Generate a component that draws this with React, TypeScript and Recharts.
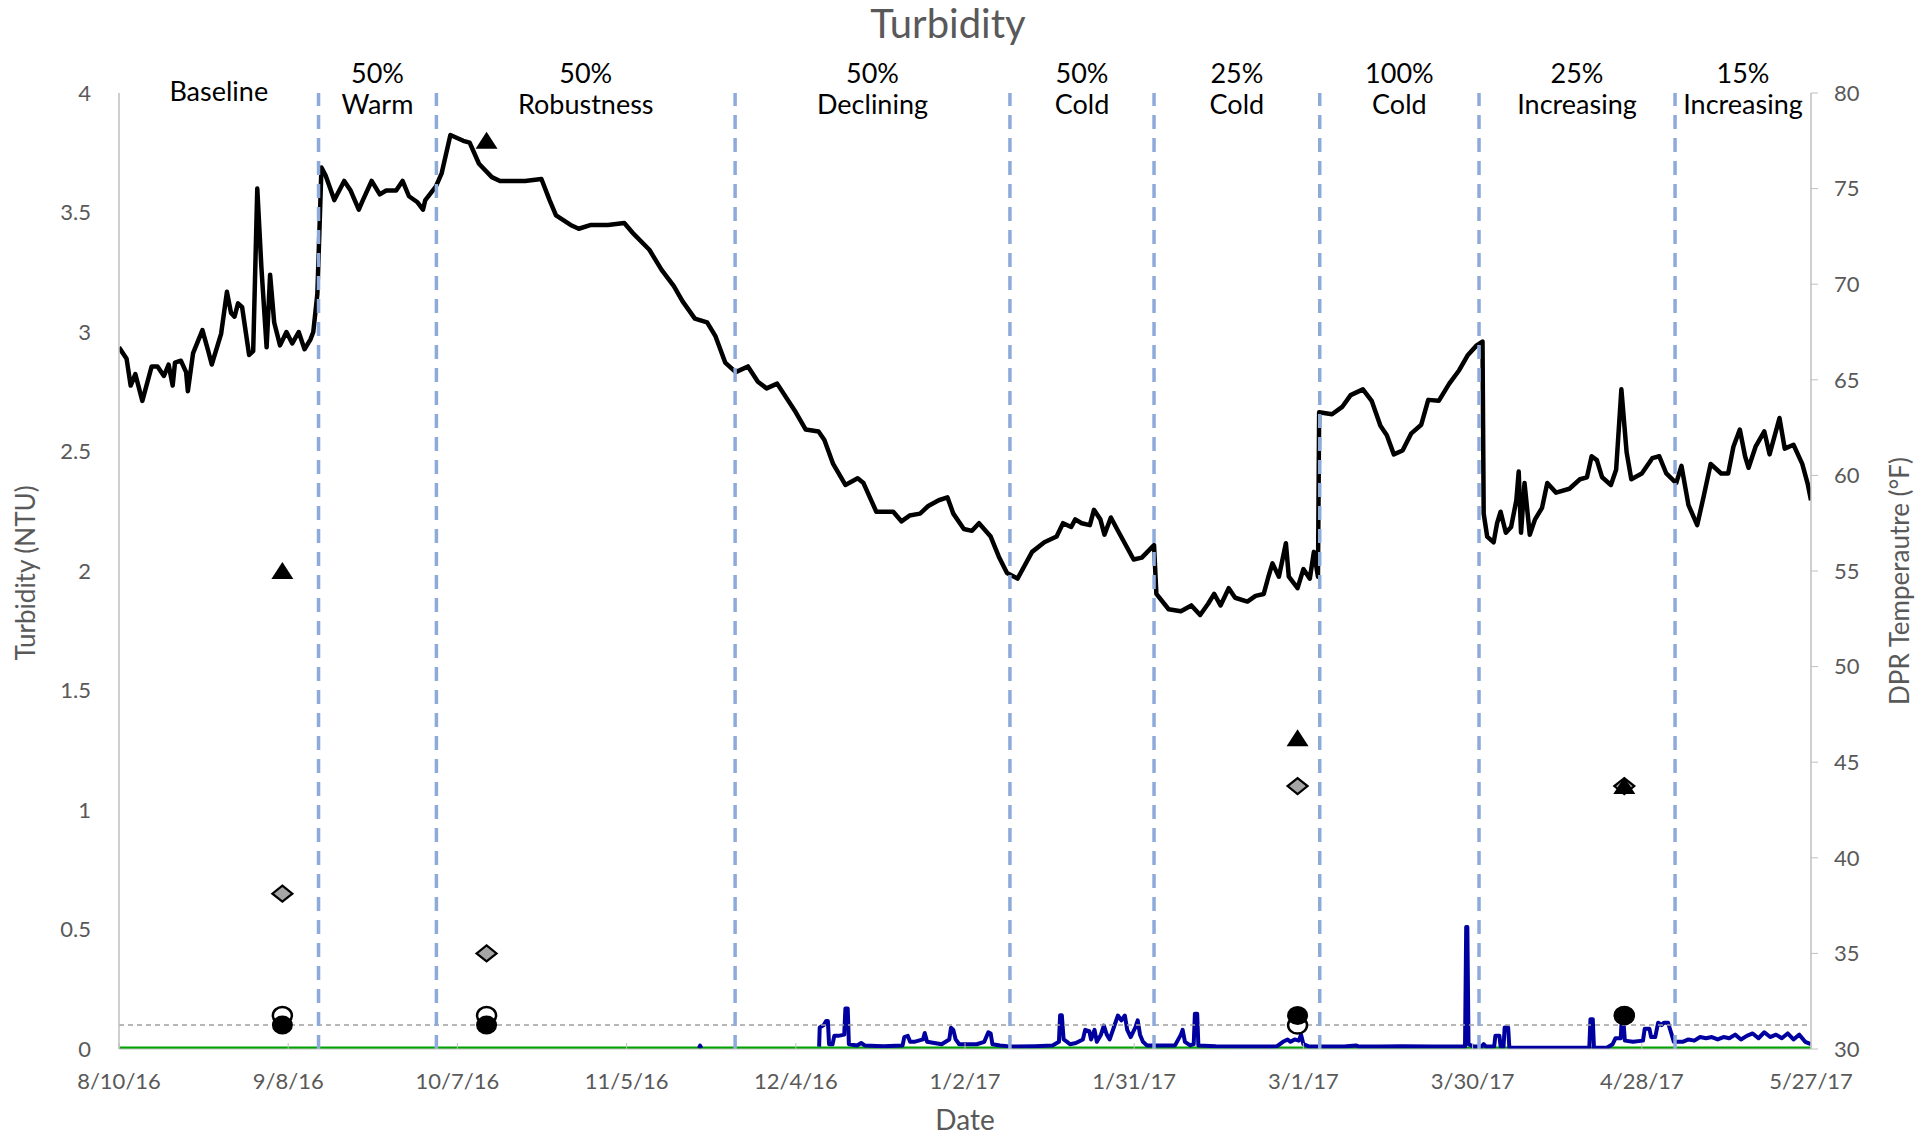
import React from 'react';
import { ComposedChart, Line, Scatter, XAxis, YAxis, ReferenceLine, ReferenceArea } from 'recharts';

const FONT = 'Lato, "Open Sans", sans-serif';
const GREY_TEXT = '#595959';
const AXIS_GREY = '#bfbfbf';

// x axis is "days since 8/10/16"
const dateTicks = [0, 29, 58, 87, 116, 145, 174, 203, 232, 261, 290];
const dateLabels = ['8/10/16', '9/8/16', '10/7/16', '11/5/16', '12/4/16', '1/2/17', '1/31/17', '3/1/17', '3/30/17', '4/28/17', '5/27/17'];
const ntuTicks = [0, 0.5, 1, 1.5, 2, 2.5, 3, 3.5, 4];
const tempTicks = [30, 35, 40, 45, 50, 55, 60, 65, 70, 75, 80];

// test phases
const phaseStarts = [0, 34.2, 54.4, 105.6, 152.7, 177.4, 205.8, 233.1, 266.7];
const phaseEnds = [34.2, 54.4, 105.6, 152.7, 177.4, 205.8, 233.1, 266.7, 290];
const phaseLevel = ['', '50%', '50%', '50%', '50%', '25%', '100%', '25%', '15%'];
const phaseName = ['Baseline', 'Warm', 'Robustness', 'Declining', 'Cold', 'Cold', 'Cold', 'Increasing', 'Increasing'];
const phaseBoundaries = [34.2, 54.4, 105.6, 152.7, 177.4, 205.8, 233.1, 266.7];

// grab samples
const sampleDays = [28, 63, 202, 258];
const triangleNtu = [2.0, 3.8, 1.3, 1.1];
const diamondNtu = [0.65, 0.4, 1.1, 1.1];
const openCircleNtu = [0.14, 0.14, 0.1, 0.14];
const filledCircleNtu = [0.1, 0.1, 0.14, 0.14];

// DPR temperature (F), [day, value]
const temperature: [number, number][] = [
  [0, 66.7], [1.3, 66.1], [2.0, 64.7], [2.8, 65.3], [4.0, 63.9], [5.6, 65.7], [6.6, 65.7], [7.7, 65.2],
  [8.5, 65.8], [9.2, 64.7], [9.6, 65.9], [10.6, 66.0], [11.5, 65.4], [11.8, 64.4], [12.7, 66.4], [14.3, 67.6],
  [15.3, 66.5], [15.9, 65.8], [17.5, 67.4], [18.5, 69.6], [19.2, 68.5], [19.8, 68.3], [20.4, 69.0], [21.1, 68.8],
  [22.3, 66.3], [23.0, 66.5], [23.7, 75.0], [24.4, 70.9], [25.3, 66.7], [25.9, 70.5], [26.6, 68.0], [27.6, 66.8],
  [28.7, 67.5], [29.7, 66.9], [30.8, 67.5], [31.8, 66.6], [32.8, 67.1], [33.3, 67.5], [34.0, 69.5], [34.7, 76.1],
  [35.4, 75.7], [36.9, 74.4], [38.6, 75.4], [39.7, 74.9], [41.1, 73.9], [41.8, 74.4], [43.3, 75.4], [44.7, 74.7],
  [45.8, 74.9], [47.5, 74.9], [48.6, 75.4], [49.7, 74.6], [51.1, 74.3], [52.1, 73.9], [52.5, 74.4], [54.3, 75.1],
  [55.3, 75.8], [56.8, 77.8], [59.0, 77.5], [60.1, 77.4], [61.7, 76.3], [63.9, 75.6], [65.3, 75.4], [69.6, 75.4],
  [72.4, 75.5], [73.8, 74.4], [74.9, 73.6], [77.4, 73.1], [78.8, 72.9], [80.9, 73.1], [83.8, 73.1], [86.6, 73.2],
  [88.0, 72.7], [90.9, 71.8], [93.0, 70.75], [95.1, 69.9], [96.6, 69.1], [98.7, 68.2], [100.8, 68.0], [102.2, 67.3],
  [103.9, 65.9], [105.7, 65.4], [107.8, 65.7], [109.5, 64.9], [111.0, 64.55], [112.8, 64.8], [116.0, 63.3], [117.7, 62.4],
  [119.9, 62.3], [120.9, 61.85], [122.4, 60.6], [124.5, 59.5], [126.6, 59.85], [127.6, 59.6], [129.8, 58.1], [132.7, 58.1],
  [134.1, 57.6], [135.5, 57.9], [137.3, 58.0], [138.7, 58.4], [140.5, 58.7], [142.0, 58.85], [143.0, 58.0], [144.8, 57.2],
  [146.2, 57.1], [147.4, 57.5], [149.4, 56.8], [150.8, 55.75], [152.2, 54.9], [154.0, 54.6], [156.5, 56.0], [158.6, 56.5],
  [160.7, 56.8], [161.8, 57.5], [163.2, 57.3], [163.9, 57.7], [165.0, 57.5], [166.4, 57.4], [167.1, 58.2], [168.2, 57.7],
  [168.9, 56.9], [170.0, 57.8], [171.4, 57.0], [173.9, 55.6], [175.3, 55.7], [177.4, 56.35], [177.8, 53.8], [179.9, 53.0],
  [182.0, 52.9], [183.8, 53.2], [185.3, 52.7], [186.7, 53.3], [187.7, 53.8], [188.8, 53.2], [190.2, 54.1], [191.3, 53.6],
  [193.4, 53.4], [194.8, 53.7], [196.2, 53.8], [197.0, 54.7], [197.7, 55.4], [198.8, 54.7], [200.0, 56.45], [200.5, 54.7],
  [202.0, 54.1], [203.0, 55.1], [204.1, 54.6], [204.8, 56.0], [205.5, 54.7], [205.7, 63.3], [207.9, 63.2], [209.7, 63.6],
  [211.1, 64.2], [213.2, 64.5], [214.7, 63.9], [216.2, 62.6], [217.3, 62.1], [218.5, 61.1], [220.0, 61.3], [221.5, 62.2],
  [223.2, 62.65], [224.4, 63.95], [226.2, 63.9], [228.0, 64.8], [229.7, 65.5], [231.2, 66.3], [232.7, 66.8], [233.7, 67.0],
  [233.9, 58.0], [234.5, 56.8], [235.6, 56.5], [236.2, 57.5], [236.8, 58.1], [237.7, 57.0], [238.6, 57.3], [239.5, 58.7],
  [239.9, 60.2], [240.3, 57.0], [240.9, 59.6], [241.8, 56.9], [242.7, 57.7], [243.9, 58.3], [244.8, 59.6], [246.3, 59.1],
  [248.6, 59.3], [250.4, 59.8], [251.6, 59.9], [252.4, 61.0], [253.3, 60.8], [254.2, 59.9], [255.7, 59.5], [256.6, 60.3],
  [257.5, 64.5], [258.4, 61.2], [259.2, 59.8], [261.0, 60.1], [262.8, 60.9], [264.0, 61.0], [265.2, 60.1], [266.9, 59.6],
  [267.8, 60.5], [269.0, 58.45], [270.5, 57.4], [271.6, 58.9], [272.8, 60.6], [274.6, 60.1], [275.8, 60.1], [276.7, 61.5],
  [277.8, 62.4], [278.7, 61.0], [279.3, 60.4], [280.5, 61.5], [282.0, 62.3], [282.9, 61.1], [284.6, 63.0], [285.5, 61.4],
  [287.0, 61.6], [288.5, 60.6], [289.4, 59.6], [290.0, 58.7],
];

// online turbidity (NTU), [day, value]; null = no data
const turbidity: [number, number | null][] = [
  [99.4, 0.004], [99.6, 0.014], [99.8, 0.004], [100, null],
  [120.0, 0.01], [120.1, 0.09], [120.8, 0.1], [121.2, 0.117], [121.5, 0.117], [121.7, 0.02], [122.3, 0.02], [122.6, 0.055],
  [123.3, 0.055], [124.3, 0.06], [124.5, 0.169], [124.9, 0.169], [125.1, 0.02], [126.5, 0.015], [127.2, 0.025], [127.8, 0.015],
  [131, 0.012], [134.3, 0.015], [134.6, 0.05], [135.2, 0.055], [135.6, 0.03], [136.3, 0.03], [137.8, 0.04], [138.1, 0.067],
  [138.5, 0.03], [141.0, 0.02], [142.3, 0.04], [142.6, 0.089], [143.0, 0.08], [143.4, 0.04], [144, 0.02], [147, 0.02],
  [148.3, 0.03], [149.0, 0.07], [149.4, 0.065], [149.7, 0.02], [151, 0.015], [152.3, 0.012], [153.5, 0.01], [157, 0.012],
  [160, 0.015], [161.1, 0.03], [161.3, 0.141], [161.6, 0.141], [161.9, 0.04], [162.5, 0.03], [163, 0.02], [164, 0.025],
  [165.2, 0.04], [165.6, 0.08], [166.3, 0.075], [166.6, 0.04], [167.2, 0.08], [167.6, 0.03], [168.3, 0.06], [168.8, 0.098],
  [169.3, 0.06], [169.8, 0.04], [170.5, 0.09], [171.2, 0.14], [171.8, 0.12], [172.4, 0.14], [172.8, 0.08], [173.4, 0.05],
  [174.2, 0.09], [174.6, 0.12], [175.0, 0.06], [175.5, 0.03], [176.2, 0.015], [178, 0.015], [181, 0.015], [182.0, 0.06],
  [182.3, 0.08], [182.7, 0.03], [183.6, 0.015], [184.2, 0.02], [184.4, 0.147], [184.8, 0.147], [185.0, 0.015], [188, 0.012],
  [193, 0.01], [197, 0.01], [198.5, 0.012], [199.5, 0.03], [200.3, 0.04], [200.8, 0.03], [201.5, 0.04], [202.2, 0.035],
  [202.6, 0.06], [203.0, 0.02], [204, 0.01], [210, 0.01], [212, 0.015], [212.5, 0.01], [216, 0.01], [220, 0.012],
  [225, 0.01], [230.7, 0.01], [230.9, 0.51], [231.1, 0.51], [231.3, 0.02], [232.2, 0.01], [233.5, 0.01], [233.9, 0.02],
  [234.3, 0.01], [235.7, 0.01], [235.9, 0.055], [236.6, 0.055], [236.8, 0.01], [237.3, 0.01], [237.5, 0.09], [238.1, 0.09],
  [238.3, 0.005], [245, 0.005], [252.0, 0.005], [252.2, 0.125], [252.6, 0.125], [252.8, 0.005], [255, 0.005], [256, 0.02],
  [256.5, 0.045], [257.4, 0.045], [257.5, 0.1], [257.9, 0.1], [258.1, 0.035], [259.5, 0.03], [261.2, 0.035], [261.5, 0.085],
  [262.3, 0.085], [262.6, 0.05], [263.3, 0.05], [263.8, 0.11], [264.4, 0.1], [264.8, 0.11], [265.5, 0.11], [266.0, 0.07],
  [266.5, 0.03], [268, 0.03], [269, 0.04], [270, 0.035], [271, 0.05], [272, 0.045], [273, 0.05], [274, 0.04],
  [275, 0.05], [276, 0.045], [277, 0.06], [278, 0.04], [279, 0.055], [280, 0.065], [281, 0.045], [282, 0.07],
  [283, 0.05], [284, 0.06], [285, 0.045], [286, 0.065], [287, 0.04], [288, 0.06], [289, 0.03], [290, 0.02],
];

// second turbidimeter, reads zero throughout
const zeroTurbidity: [number, number][] = [[0, 0], [290, 0]];

const toRows = (pts: [number, number | null][]) => pts.map(([day, v]) => ({ day, v }));
const samples = (vals: number[]) => sampleDays.map((day, i) => ({ day, v: vals[i] }));

const Triangle = (p: any) => (
  <path d={`M${p.cx},${p.cy - 9} L${p.cx + 11},${p.cy + 8} L${p.cx - 11},${p.cy + 8} Z`} fill="#000" />
);
const Diamond = (p: any) => (
  <path d={`M${p.cx},${p.cy - 8} L${p.cx + 10},${p.cy} L${p.cx},${p.cy + 8} L${p.cx - 10},${p.cy} Z`} fill="#a5a5a5" stroke="#000" strokeWidth={2.2} />
);
const OpenCircle = (p: any) => <ellipse cx={p.cx} cy={p.cy} rx={9.5} ry={8.5} fill="#fff" stroke="#000" strokeWidth={2.5} />;
const FilledCircle = (p: any) => <ellipse cx={p.cx} cy={p.cy} rx={10.5} ry={9.5} fill="#000" />;

function PhaseLabel(props: any) {
  const vb = props.viewBox;
  if (!vb) return null;
  const cx = vb.x + vb.width / 2;
  const style = { fontFamily: FONT, fontSize: 27, fill: '#000' };
  if (!props.level) {
    return <text x={cx} y={vb.y - 3} textAnchor="middle" dominantBaseline="central" style={style}>{props.name}</text>;
  }
  return (
    <g>
      <text x={cx} y={vb.y - 21} textAnchor="middle" dominantBaseline="central" style={style}>{props.level}</text>
      <text x={cx} y={vb.y + 10} textAnchor="middle" dominantBaseline="central" style={style}>{props.name}</text>
    </g>
  );
}

const tickStyle = { fill: GREY_TEXT, fontSize: 22, fontFamily: FONT };

export default function App() {
  return (
    <div style={{ position: 'absolute', left: 0, top: 0, width: 1921, height: 1138, background: '#fff', overflow: 'hidden' }}>
      <ComposedChart width={1921} height={1138} margin={{ top: 93, right: 0, bottom: 0, left: 0 }}>
        <XAxis
          dataKey="day"
          type="number"
          domain={[0, 290]}
          ticks={dateTicks}
          interval={0}
          allowDataOverflow
          height={89}
          tickSize={-6}
          tickMargin={30}
          tickFormatter={(v) => dateLabels[dateTicks.indexOf(v)]}
          tick={tickStyle}
          tickLine={{ stroke: AXIS_GREY }}
          axisLine={{ stroke: AXIS_GREY }}
        />
        <YAxis
          yAxisId="n"
          orientation="left"
          width={119}
          domain={[0, 4]}
          ticks={ntuTicks}
          interval={0}
          allowDataOverflow
          tickSize={0}
          tickMargin={28}
          tick={tickStyle}
          axisLine={{ stroke: AXIS_GREY, strokeWidth: 1.5 }}
        />
        <YAxis
          yAxisId="t"
          orientation="right"
          width={110}
          domain={[30, 80]}
          ticks={tempTicks}
          interval={0}
          allowDataOverflow
          tickSize={7}
          tickMargin={16}
          tick={tickStyle}
          tickLine={{ stroke: AXIS_GREY }}
          axisLine={{ stroke: AXIS_GREY, strokeWidth: 1.5 }}
        />

        {phaseStarts.map((s, i) => (
          <ReferenceArea
            key={'p' + i}
            yAxisId="n"
            x1={s}
            x2={phaseEnds[i]}
            fill="none"
            fillOpacity={0}
            stroke="none"
            label={(p: any) => <PhaseLabel {...p} level={phaseLevel[i]} name={phaseName[i]} />}
          />
        ))}

        <Line yAxisId="n" data={toRows(zeroTurbidity)} dataKey="v" stroke="#00a400" strokeWidth={5} dot={false} isAnimationActive={false} />
        <Line yAxisId="n" data={toRows(turbidity)} dataKey="v" stroke="#0000a0" strokeWidth={4} strokeLinejoin="round" dot={false} connectNulls={false} isAnimationActive={false} />
        <Line yAxisId="t" data={toRows(temperature)} dataKey="v" stroke="#000" strokeWidth={4.5} strokeLinejoin="round" dot={false} isAnimationActive={false} />

        <ReferenceLine yAxisId="n" y={0.1} stroke="#a0a0a0" strokeWidth={1.5} strokeDasharray="5 4" />
        {phaseBoundaries.map((d) => (
          <ReferenceLine key={'b' + d} yAxisId="n" x={d} stroke="#8eaadb" strokeWidth={3.5} strokeDasharray="14 9" />
        ))}

        <Scatter yAxisId="n" data={samples(diamondNtu)} dataKey="v" shape={Diamond} isAnimationActive={false} />
        <Scatter yAxisId="n" data={samples(triangleNtu)} dataKey="v" shape={Triangle} isAnimationActive={false} />
        <Scatter yAxisId="n" data={samples(openCircleNtu)} dataKey="v" shape={OpenCircle} isAnimationActive={false} />
        <Scatter yAxisId="n" data={samples(filledCircleNtu)} dataKey="v" shape={FilledCircle} isAnimationActive={false} />
      </ComposedChart>

      <svg width={1921} height={1138} style={{ position: 'absolute', left: 0, top: 0, pointerEvents: 'none' }}>
        <text x={948} y={23} textAnchor="middle" dominantBaseline="central" style={{ fontFamily: FONT, fontSize: 40, fill: GREY_TEXT }}>Turbidity</text>
        <text x={965} y={1119} textAnchor="middle" dominantBaseline="central" style={{ fontFamily: FONT, fontSize: 28, fill: GREY_TEXT }}>Date</text>
        <text transform="translate(25,573) rotate(-90)" textAnchor="middle" dominantBaseline="central" style={{ fontFamily: FONT, fontSize: 26, fill: GREY_TEXT }}>Turbidity (NTU)</text>
        <text transform="translate(1899,581) rotate(-90)" textAnchor="middle" dominantBaseline="central" style={{ fontFamily: FONT, fontSize: 26, fill: GREY_TEXT }}>DPR Temperautre (°F)</text>
      </svg>
    </div>
  );
}
